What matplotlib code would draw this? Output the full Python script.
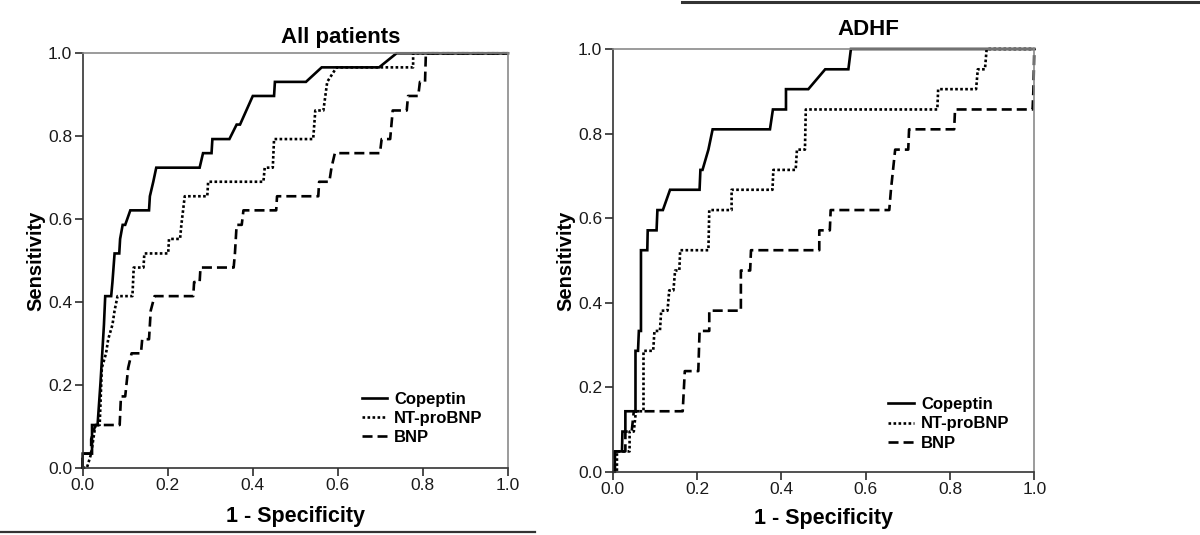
import matplotlib
matplotlib.use("Agg")
import matplotlib.pyplot as plt
from matplotlib.lines import Line2D

plt.rcParams['font.family'] = ['Liberation Sans', 'DejaVu Sans']

# ---------------- data ----------------
panel_titles = ["All patients", "ADHF"]
series_names = ["Copeptin", "NT-proBNP", "BNP"]
tick_values = [0.0, 0.2, 0.4, 0.6, 0.8, 1.0]
tick_labels = ["0.0", "0.2", "0.4", "0.6", "0.8", "1.0"]

# All patients
all_copeptin_fpr = [0, 0, 0.022, 0.022, 0.035, 0.042, 0.05, 0.053, 0.067, 0.07, 0.075, 0.086, 0.088,
                    0.094, 0.1, 0.112, 0.156, 0.158, 0.166, 0.173, 0.275, 0.283, 0.303, 0.305, 0.345,
                    0.362, 0.37, 0.4, 0.45, 0.452, 0.525, 0.562, 0.697, 0.738, 1.0]
all_copeptin_tpr = [0, 0.034, 0.034, 0.103, 0.103, 0.207, 0.345, 0.414, 0.414, 0.448, 0.517, 0.517, 0.552,
                    0.586, 0.586, 0.621, 0.621, 0.655, 0.69, 0.724, 0.724, 0.759, 0.759, 0.793, 0.793,
                    0.828, 0.828, 0.897, 0.897, 0.931, 0.931, 0.966, 0.966, 1.0, 1.0]

all_ntprobnp_fpr = [0, 0.01, 0.02, 0.025, 0.03, 0.04, 0.045, 0.055, 0.06, 0.07, 0.075, 0.082, 0.117,
                    0.12, 0.143, 0.145, 0.201, 0.203, 0.229, 0.232, 0.24, 0.293, 0.295, 0.425, 0.428,
                    0.447, 0.45, 0.542, 0.547, 0.566, 0.575, 0.597, 0.777, 0.777, 1.0]
all_ntprobnp_tpr = [0, 0, 0.034, 0.069, 0.103, 0.103, 0.241, 0.276, 0.31, 0.345, 0.379, 0.414, 0.414,
                    0.483, 0.483, 0.517, 0.517, 0.552, 0.552, 0.586, 0.655, 0.655, 0.69, 0.69, 0.724,
                    0.724, 0.793, 0.793, 0.862, 0.862, 0.931, 0.966, 0.966, 1.0, 1.0]

all_bnp_fpr = [0, 0, 0.02, 0.02, 0.03, 0.087, 0.09, 0.1, 0.107, 0.115, 0.137, 0.14, 0.156, 0.16, 0.169,
               0.26, 0.262, 0.275, 0.277, 0.355, 0.358, 0.362, 0.374, 0.378, 0.455, 0.457, 0.554,
               0.556, 0.58, 0.585, 0.593, 0.699, 0.703, 0.723, 0.729, 0.762, 0.765, 0.789, 0.793,
               0.805, 0.807, 1.0]
all_bnp_tpr = [0, 0.034, 0.034, 0.069, 0.103, 0.103, 0.172, 0.172, 0.241, 0.276, 0.276, 0.31, 0.31,
               0.379, 0.414, 0.414, 0.448, 0.448, 0.483, 0.483, 0.517, 0.586, 0.586, 0.621, 0.621,
               0.655, 0.655, 0.69, 0.69, 0.724, 0.759, 0.759, 0.793, 0.793, 0.862, 0.862, 0.897,
               0.897, 0.931, 0.931, 1.0, 1.0]

# ADHF
adhf_copeptin_fpr = [0.005, 0.005, 0.022, 0.023, 0.03, 0.03, 0.054, 0.054, 0.06, 0.062, 0.067, 0.067,
                     0.082, 0.083, 0.104, 0.106, 0.119, 0.136, 0.206, 0.208, 0.213, 0.227, 0.237,
                     0.373, 0.38, 0.411, 0.411, 0.464, 0.504, 0.559, 0.565, 1.0]
adhf_copeptin_tpr = [0, 0.048, 0.048, 0.095, 0.095, 0.143, 0.143, 0.286, 0.286, 0.333, 0.333, 0.524,
                     0.524, 0.571, 0.571, 0.619, 0.619, 0.667, 0.667, 0.714, 0.714, 0.762, 0.81,
                     0.81, 0.857, 0.857, 0.905, 0.905, 0.952, 0.952, 1.0, 1.0]

adhf_ntprobnp_fpr = [0, 0.01, 0.01, 0.04, 0.04, 0.05, 0.055, 0.073, 0.073, 0.096, 0.099, 0.112, 0.115,
                     0.13, 0.134, 0.144, 0.148, 0.158, 0.16, 0.227, 0.229, 0.282, 0.282, 0.379, 0.381,
                     0.434, 0.437, 0.456, 0.458, 0.77, 0.772, 0.862, 0.866, 0.883, 0.887, 1.0]
adhf_ntprobnp_tpr = [0, 0, 0.048, 0.048, 0.095, 0.095, 0.143, 0.143, 0.286, 0.286, 0.333, 0.333, 0.381,
                     0.381, 0.429, 0.429, 0.476, 0.476, 0.524, 0.524, 0.619, 0.619, 0.667, 0.667, 0.714,
                     0.714, 0.762, 0.762, 0.857, 0.857, 0.905, 0.905, 0.952, 0.952, 1.0, 1.0]

adhf_bnp_fpr = [0, 0.005, 0.005, 0.03, 0.03, 0.045, 0.05, 0.166, 0.171, 0.203, 0.206, 0.229, 0.229,
                0.304, 0.304, 0.326, 0.328, 0.49, 0.49, 0.515, 0.517, 0.656, 0.66, 0.67, 0.701, 0.703,
                0.81, 0.812, 0.996, 0.998, 1.0]
adhf_bnp_tpr = [0, 0, 0.048, 0.048, 0.095, 0.095, 0.143, 0.143, 0.238, 0.238, 0.333, 0.333, 0.381,
                0.381, 0.476, 0.476, 0.524, 0.524, 0.571, 0.571, 0.619, 0.619, 0.667, 0.762, 0.762,
                0.81, 0.81, 0.857, 0.857, 0.905, 1.0]

# ---------------- figure ----------------
fig = plt.figure(figsize=(12, 5.35), dpi=100)
ax_left = fig.add_axes([0.0689, 0.1258, 0.3544, 0.7746])
ax_right = fig.add_axes([0.5106, 0.1183, 0.3513, 0.7901])

styles = [dict(linestyle='-', linewidth=1.9),
          dict(linestyle=(0, (1.0, 0.9)), linewidth=1.9),
          dict(linestyle=(0, (3.8, 1.9)), linewidth=1.9)]

panels = [
    (ax_left, panel_titles[0],
     [(all_copeptin_fpr, all_copeptin_tpr), (all_ntprobnp_fpr, all_ntprobnp_tpr), (all_bnp_fpr, all_bnp_tpr)],
     (0.656, 0.119), 1.024, 9),
    (ax_right, panel_titles[1],
     [(adhf_copeptin_fpr, adhf_copeptin_tpr), (adhf_ntprobnp_fpr, adhf_ntprobnp_tpr), (adhf_bnp_fpr, adhf_bnp_tpr)],
     (0.654, 0.113), 1.033, 8),
]

for ax, title, curves, leg_anchor, title_y, xpad in panels:
    for (fx, ty), name, st in zip(curves, series_names, styles):
        ax.plot(fx, ty, color='black', label=name, clip_on=False,
                solid_joinstyle='miter', dash_capstyle='butt', **st)
    ax.set_xlim(0, 1)
    ax.set_ylim(0, 1)
    ax.set_xticks(tick_values)
    ax.set_xticklabels(tick_labels)
    ax.set_yticks(tick_values)
    ax.set_yticklabels(tick_labels)
    ax.tick_params(direction='out', length=6, width=1.1, pad=1.5, labelsize=12.5,
                   colors='#1a1a1a')
    for side in ['left', 'bottom']:
        ax.spines[side].set_color('#333333')
        ax.spines[side].set_linewidth(1.2)
    for side in ['top', 'right']:
        ax.spines[side].set_color('#8a8a8a')
        ax.spines[side].set_linewidth(1.2)
    ax.set_xlabel("1 - Specificity", fontsize=15.5, fontweight='bold', labelpad=xpad)
    ax.set_ylabel("Sensitivity", fontsize=14.5, fontweight='bold', labelpad=2)
    ax.text(0.606, title_y, title, transform=ax.transAxes, ha='center', va='baseline',
            fontsize=16, fontweight='bold')
    ax.legend(loc='center left', bbox_to_anchor=leg_anchor, frameon=False,
              borderpad=0, borderaxespad=0, handlelength=1.55, handletextpad=0.4,
              labelspacing=0.25, prop={'size': 12, 'weight': 'bold'})

# decorative rules of the source layout
fig.add_artist(Line2D([0.568, 1.0], [0.996, 0.996], color='#333333', linewidth=2.2,
                      transform=fig.transFigure))
fig.add_artist(Line2D([0.0, 0.446], [0.006, 0.006], color='#333333', linewidth=1.6,
                      transform=fig.transFigure))

fig.savefig("out.png", dpi=100)
